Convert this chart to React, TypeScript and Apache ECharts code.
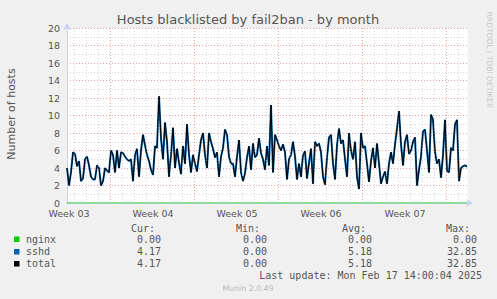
import React, { useEffect, useRef } from "react";
import * as echarts from "echarts";

// total (= sshd) hosts, one reading every 4 hours
const totalValues: number[] = [
  4.0, 2.0, 3.5, 5.8, 5.6, 4.2, 4.8, 2.5, 2.8, 5.0, 5.3, 4.3, 3.0, 2.7, 2.7, 4.3, 4.0, 2.0, 2.5, 4.0,
  3.7, 3.5, 6.0, 5.5, 3.5, 6.0, 4.0, 5.8, 5.7, 5.3, 5.0, 4.8, 5.0, 2.5, 5.5, 6.2, 3.0, 6.0, 7.8, 6.6,
  5.5, 4.8, 3.8, 3.2, 6.5, 6.3, 12.2,
  7.4, 5.0, 9.2, 7.0, 3.0, 5.5, 8.6, 4.0, 6.2, 4.6, 3.3, 6.5, 4.5, 9.0, 5.5, 3.5, 5.5, 4.5, 3.6, 5.5,
  7.2, 8.0,
  5.5, 4.0, 8.0, 7.0, 6.2, 5.2, 5.8, 3.0, 5.3, 6.3, 8.4, 7.8, 5.3, 4.5, 4.5, 3.0, 5.3, 7.2, 3.5, 2.5,
  3.4, 5.2, 6.5, 3.8, 6.8, 5.2, 5.5, 7.4, 5.7, 5.0, 3.8, 6.5, 4.3, 11.2,
  3.5, 7.8, 7.2, 6.5, 6.0, 6.7, 5.8, 2.7, 5.0, 5.5, 7.0, 5.3, 2.7, 4.5, 3.0, 5.5, 5.9, 2.8, 4.6, 6.2,
  2.2, 7.0, 6.5, 6.8, 5.8, 3.0, 2.1, 5.2, 7.5, 7.8, 4.5, 2.7, 6.6, 8.5,
  6.8, 7.2, 5.0, 3.0, 8.0, 6.0, 5.0, 7.0, 3.0, 1.6, 8.0, 6.3, 6.5, 4.5, 2.4, 4.8, 6.3, 4.0, 6.8, 4.5,
  2.2, 3.0, 3.6, 2.2, 4.5, 5.8, 4.5, 6.7, 8.5, 10.5, 6.7, 4.3, 7.0, 7.8,
  5.6, 6.0, 7.0, 7.5, 2.0, 3.8, 5.3, 8.2, 8.4, 6.0, 3.5, 10.1, 9.5, 5.8, 4.5, 5.0, 2.9, 5.5, 9.5, 3.7,
  3.5, 6.3, 6.0, 9.0, 9.5, 2.5, 4.0, 4.2, 4.3, 4.17,
];
const sshdValues: number[] = totalValues.slice();
const nginxValues: number[] = totalValues.map(() => 0);

const weekLabels: string[] = ["Week 03", "Week 04", "Week 05", "Week 06", "Week 07"];
const yTicks: number[] = [0, 2, 4, 6, 8, 10, 12, 14, 16, 18, 20];

const legendNames: string[] = ["nginx", "sshd", "total"];
const legendColors: string[] = ["#00cc00", "#0066b3", "#000000"];
const curVals: string[] = ["0.00", "4.17", "4.17"];
const minVals: string[] = ["0.00", "0.00", "0.00"];
const avgVals: string[] = ["0.00", "5.18", "5.18"];
const maxVals: string[] = ["0.00", "32.85", "32.85"];
const lastUpdate = "Last update: Mon Feb 17 14:00:04 2025";

const HOURS_PER_SAMPLE = 4;
const AXIS_MAX_H = 802;

export default function App() {
  const ref = useRef<HTMLDivElement>(null);
  useEffect(() => {
    if (!ref.current) return;
    const chart = echarts.init(ref.current, null, { renderer: "svg" });
    const toPts = (arr: number[]) => arr.map((v, i) => [i * HOURS_PER_SAMPLE, v]);

    const dayLines: any[] = [];
    for (let h = 14; h < AXIS_MAX_H; h += 24) {
      if ((h - 86) % 168 !== 0) dayLines.push({ xAxis: h });
    }
    const weekLines: any[] = [];
    for (let h = 86; h < AXIS_MAX_H; h += 168) weekLines.push({ xAxis: h });
    const labelPos = weekLabels.map((_, i) => 4 + 168 * i);

    const mono = "DejaVu Sans Mono";
    const sans = "DejaVu Sans";
    const txt = "#555555";
    const cols = [
      { head: "Cur:", headX: 155, valX: 161, vals: curVals },
      { head: "Min:", headX: 260, valX: 267, vals: minVals },
      { head: "Avg:", headX: 366, valX: 372, vals: avgVals },
      { head: "Max:", headX: 470, valX: 477, vals: maxVals },
    ];
    const rowY = [239, 251.5, 263.5];
    const graphics: any[] = [
      {
        type: "text", x: 248, y: 19,
        style: { text: "Hosts blacklisted by fail2ban - by month", font: `13px ${sans}`, fill: txt, align: "center", verticalAlign: "middle" },
      },
      {
        type: "text", x: 489, y: 60, rotation: -Math.PI / 2,
        style: { text: "RRDTOOL / TOBI OETIKER", font: `7.5px ${sans}`, fill: "#c8c8c8", align: "center", verticalAlign: "middle" },
      },
      {
        type: "text", x: 11, y: 114, rotation: Math.PI / 2,
        style: { text: "Number of hosts", font: `11px ${sans}`, fill: txt, align: "center", verticalAlign: "middle" },
      },
      {
        type: "text", x: 482, y: 275.5,
        style: { text: lastUpdate, font: `10px ${mono}`, fill: txt, align: "right", verticalAlign: "middle" },
      },
      {
        type: "text", x: 248, y: 288,
        style: { text: "Munin 2.0.49", font: `7.8px ${sans}`, fill: "#bbbbbb", align: "center", verticalAlign: "middle" },
      },
    ];
    cols.forEach((c) => {
      graphics.push({
        type: "text", x: c.headX, y: 228,
        style: { text: c.head, font: `10px ${mono}`, fill: txt, align: "right", verticalAlign: "middle" },
      });
      c.vals.forEach((v, r) => {
        graphics.push({
          type: "text", x: c.valX, y: rowY[r],
          style: { text: v, font: `10px ${mono}`, fill: txt, align: "right", verticalAlign: "middle" },
        });
      });
    });
    legendNames.forEach((n, r) => {
      graphics.push({ type: "rect", shape: { x: 14, y: rowY[r] - 2.5, width: 5.5, height: 5.5 }, style: { fill: legendColors[r] } });
      graphics.push({
        type: "text", x: 26, y: rowY[r],
        style: { text: n, font: `10px ${mono}`, fill: txt, align: "left", verticalAlign: "middle" },
      });
    });

    chart.setOption({
      animation: false,
      backgroundColor: "#f0f0f0",
      grid: { left: 67, top: 28, width: 401, height: 175, show: true, backgroundColor: "#ffffff", borderWidth: 0 },
      xAxis: {
        type: "value", min: 0, max: AXIS_MAX_H,
        axisLine: { show: true, lineStyle: { color: "#c8d0f4", width: 1 }, symbol: ["none", "arrow"], symbolSize: [6, 7], symbolOffset: [0, 5] },
        axisTick: { show: false },
        splitLine: { show: false },
        axisLabel: {
          customValues: labelPos,
          formatter: (v: number) => { const i = labelPos.indexOf(v); return i >= 0 ? weekLabels[i] : ""; },
          color: txt, fontSize: 9.5, fontFamily: sans, margin: 5,
        },
      },
      yAxis: {
        type: "value", min: yTicks[0], max: yTicks[yTicks.length - 1], interval: 2,
        axisLine: { show: true, lineStyle: { color: "#c8d0f4", width: 1 }, symbol: ["none", "arrow"], symbolSize: [6, 7], symbolOffset: [0, 5] },
        axisTick: { show: false },
        axisLabel: { color: txt, fontSize: 9.5, fontFamily: sans, margin: 7 },
        splitLine: { show: true, lineStyle: { color: "#eaa0a0", type: [1, 2], width: 1 } },
        minorTick: { show: false, splitNumber: 2 },
        minorSplitLine: { show: true, lineStyle: { color: "#d4d4d4", type: [1, 2], width: 1 } },
      },
      graphic: graphics,
      series: [
        {
          type: "line", z: 1, data: [], silent: true,
          markLine: {
            silent: true, symbol: ["none", "none"], label: { show: false },
            lineStyle: { color: "#d4d4d4", type: [1, 2], width: 1 },
            data: dayLines,
          },
        },
        {
          type: "line", z: 1, data: [], silent: true,
          markLine: {
            silent: true, symbol: ["none", "none"], label: { show: false },
            lineStyle: { color: "#eaa0a0", type: [1, 2], width: 1 },
            data: weekLines,
          },
        },
        {
          name: "nginx", type: "line", data: toPts(nginxValues), showSymbol: false, z: 3,
          lineStyle: { color: legendColors[0], width: 1.2 },
        },
        {
          name: "sshd", type: "line", data: toPts(sshdValues), showSymbol: false, z: 4,
          lineStyle: { color: legendColors[1], width: 2 },
        },
        {
          name: "total", type: "line", data: toPts(totalValues), showSymbol: false, z: 5,
          lineStyle: { color: legendColors[2], width: 1 },
        },
      ],
    });
    return () => chart.dispose();
  }, []);
  return (
    <div
      ref={ref}
      style={{ position: "fixed", left: 0, top: 0, width: 497, height: 299 }}
    />
  );
}
